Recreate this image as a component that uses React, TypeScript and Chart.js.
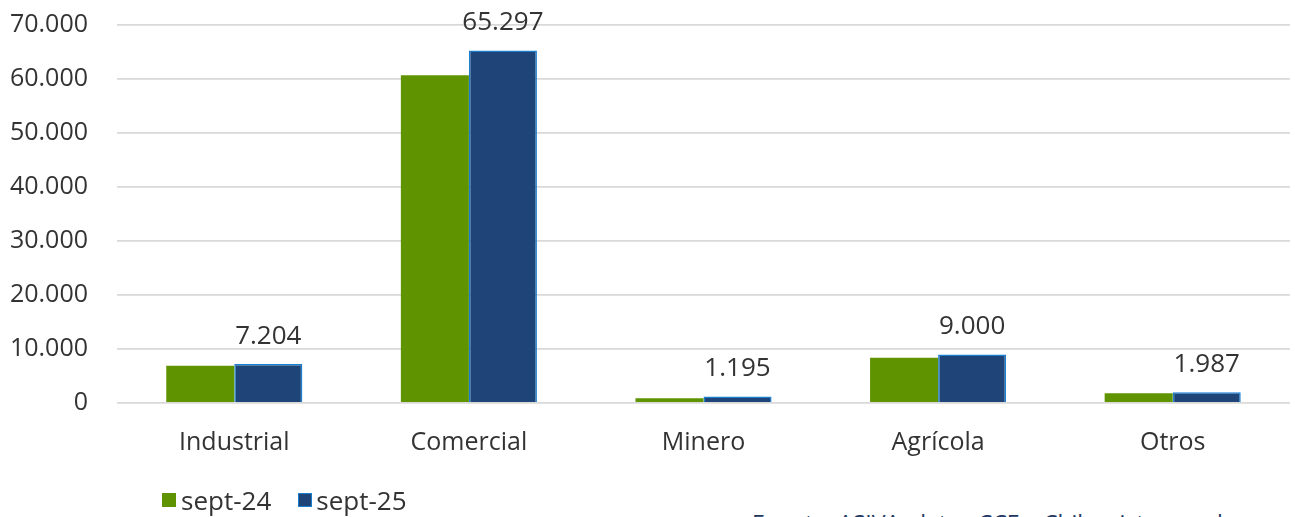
import React, { useEffect, useRef } from "react";
import { Chart, registerables } from "chart.js";

Chart.register(...registerables);

const categories = ["Industrial", "Comercial", "Minero", "Agrícola", "Otros"];
const seriesNames = ["sept-24", "sept-25"];
const sept24 = [6900, 60700, 900, 8400, 1800];
const sept25 = [7204, 65297, 1195, 9000, 1987];
const yTicks = [0, 10000, 20000, 30000, 40000, 50000, 60000, 70000];
const sourceText = "Fuente: ASIVA, datos CCE y Chile, vista anual";

const GREEN = "#5f9300";
const BLUE = "#1f4477";
const BLUE_BORDER = "#1a7fd0";
const FONT = "'Open Sans', 'Noto Sans', sans-serif";
const TEXT = "#333333";

const fmt = (v: number) => v.toLocaleString("de-DE");

const labelPlugin = {
  id: "valueLabels",
  afterDatasetsDraw(chart: any) {
    const ctx = chart.ctx;
    const meta = chart.getDatasetMeta(1);
    ctx.save();
    ctx.font = `26px ${FONT}`;
    ctx.fillStyle = TEXT;
    ctx.textAlign = "center";
    ctx.textBaseline = "middle";
    meta.data.forEach((bar: any, i: number) => {
      ctx.fillText(fmt(sept25[i]), bar.x, bar.y - 28);
    });
    ctx.restore();
  },
};

export default function App() {
  const ref = useRef<HTMLCanvasElement>(null);
  useEffect(() => {
    if (!ref.current) return;
    const chart = new Chart(ref.current, {
      type: "bar",
      data: {
        labels: categories,
        datasets: [
          {
            label: seriesNames[0],
            data: sept24,
            backgroundColor: GREEN,
            borderWidth: 0,
            categoryPercentage: 0.58,
            barPercentage: 1,
          },
          {
            label: seriesNames[1],
            data: sept25,
            backgroundColor: BLUE,
            borderColor: BLUE_BORDER,
            borderWidth: 1.5,
            categoryPercentage: 0.58,
            barPercentage: 1,
          },
        ],
      },
      options: {
        animation: false,
        responsive: true,
        maintainAspectRatio: false,
        layout: { padding: { left: 8, right: 5, top: 14, bottom: 14 } },
        plugins: {
          legend: { display: false },
          tooltip: { enabled: false },
        },
        scales: {
          x: {
            grid: { display: false },
            border: { display: false },
            ticks: {
              color: TEXT,
              font: { family: FONT, size: 25 },
              padding: 17,
            },
          },
          y: {
            min: 0,
            max: 70000,
            afterBuildTicks: (axis: any) => {
              axis.ticks = yTicks.map((v) => ({ value: v }));
            },
            afterFit: (axis: any) => {
              axis.width = 109;
            },
            grid: { color: "#d9d9d9", lineWidth: 1.8, drawTicks: false },
            border: { display: false },
            ticks: {
              color: TEXT,
              font: { family: FONT, size: 25 },
              padding: 29,
              callback: (v: any) => fmt(Number(v)),
            },
          },
        },
      },
      plugins: [labelPlugin],
    });
    return () => chart.destroy();
  }, []);

  return (
    <div
      style={{
        position: "fixed",
        left: 0,
        top: 0,
        width: 1295,
        height: 517,
        overflow: "hidden",
        background: "#fff",
      }}
    >
      <div style={{ position: "absolute", left: 0, top: -19, width: 1295, height: 508 }}>
        <canvas ref={ref} />
      </div>
      <div
        style={{
          position: "absolute",
          left: 162,
          top: 486,
          height: 28,
          display: "flex",
          alignItems: "center",
          fontFamily: FONT,
          fontSize: 26,
          color: TEXT,
          whiteSpace: "nowrap",
        }}
      >
        <span style={{ display: "inline-block", width: 14, height: 14, background: GREEN, marginRight: 5 }} />
        <span>{seriesNames[0]}</span>
        <span
          style={{
            display: "inline-block",
            width: 14,
            height: 14,
            background: BLUE,
            border: `1px solid ${BLUE_BORDER}`,
            boxSizing: "border-box",
            marginLeft: 27,
            marginRight: 4,
          }}
        />
        <span>{seriesNames[1]}</span>
      </div>
      <div
        style={{
          position: "absolute",
          left: 752,
          top: 512,
          fontFamily: FONT,
          fontSize: 23,
          lineHeight: "22px",
          color: "#203864",
          whiteSpace: "nowrap",
        }}
      >
        {sourceText}
      </div>
    </div>
  );
}
